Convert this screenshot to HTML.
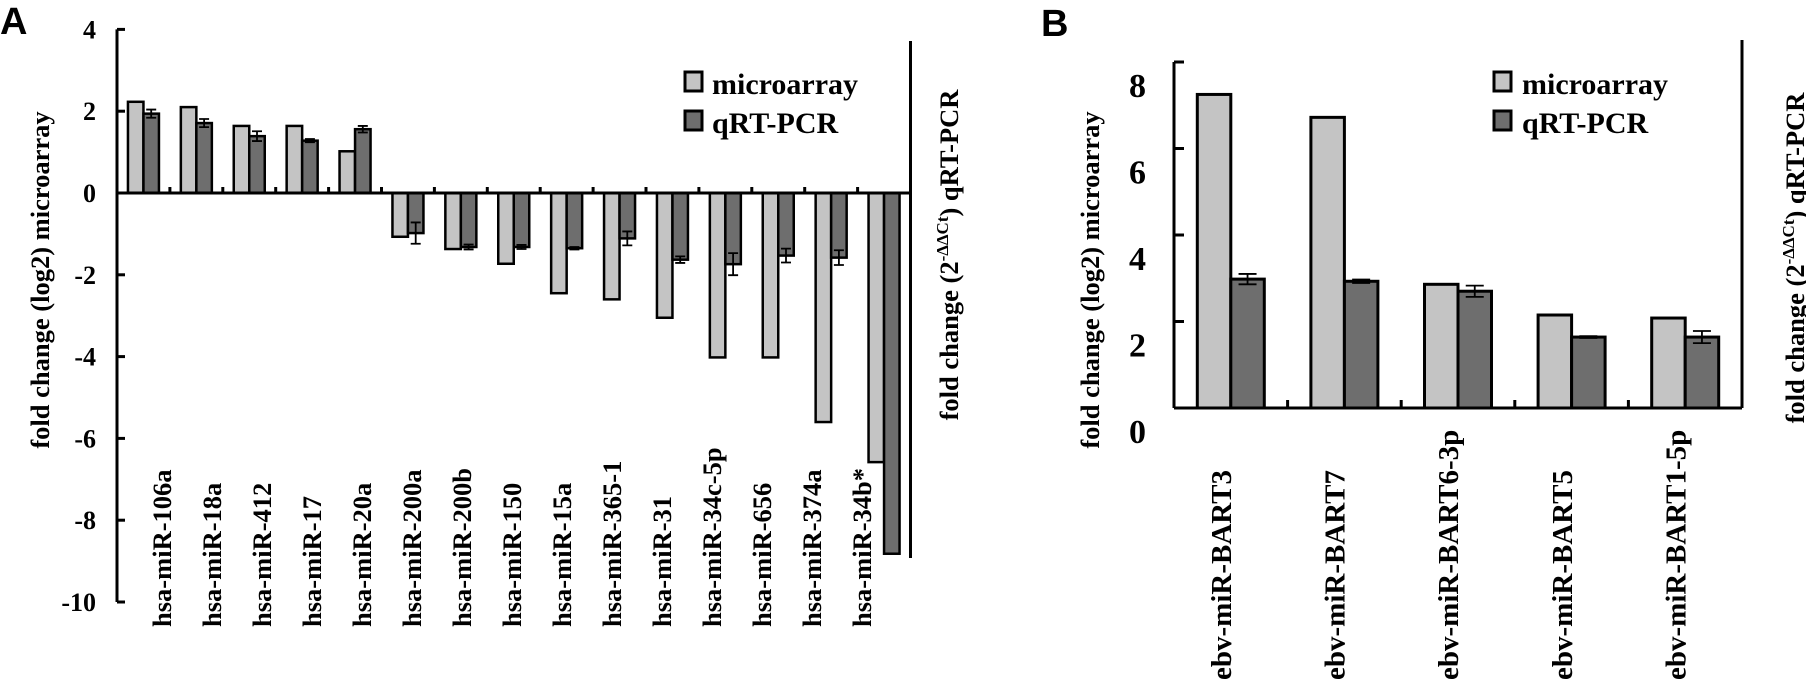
<!DOCTYPE html>
<html><head><meta charset="utf-8"><style>
html,body{margin:0;padding:0;background:#fff;}
svg{display:block;font-family:"Liberation Serif",serif;font-weight:bold;}
.sans{font-family:"Liberation Sans",sans-serif;}
</style></head><body>
<svg id="chart" width="1806" height="682" viewBox="0 0 1806 682" xmlns="http://www.w3.org/2000/svg">
<text class="sans" x="0" y="34" font-size="38">A</text>
<text class="sans" x="1041" y="36" font-size="38">B</text>
<text transform="translate(49,280) rotate(-90)" text-anchor="middle" font-size="26.5">fold change (log2) microarray</text>
<text transform="translate(958,255) rotate(-90)" text-anchor="middle" font-size="26.5">fold change (2<tspan dy="-10" font-size="17">-ΔΔCt</tspan><tspan dy="10">) qRT-PCR</tspan></text>
<text transform="translate(1099,280) rotate(-90)" text-anchor="middle" font-size="26.5">fold change (log2) microarray</text>
<text transform="translate(1804,258) rotate(-90)" text-anchor="middle" font-size="26.5">fold change (2<tspan dy="-10" font-size="17">-ΔΔCt</tspan><tspan dy="10">) qRT-PCR</tspan></text>
<g>
<rect x="685" y="72" width="17" height="19" fill="#c4c4c4" stroke="#000" stroke-width="3"/>
<text x="712" y="94" font-size="30">microarray</text>
<rect x="685" y="111" width="17" height="19" fill="#6e6e6e" stroke="#000" stroke-width="3"/>
<text x="712" y="133" font-size="30">qRT-PCR</text>
</g>
<g>
<rect x="1494" y="72" width="17" height="19" fill="#c4c4c4" stroke="#000" stroke-width="3"/>
<text x="1522" y="94" font-size="30">microarray</text>
<rect x="1494" y="111" width="17" height="19" fill="#6e6e6e" stroke="#000" stroke-width="3"/>
<text x="1522" y="133" font-size="30">qRT-PCR</text>
</g>
<g id="ga"></g><g id="gb"></g>
</svg>
<script>
const catsA = ["hsa-miR-106a","hsa-miR-18a","hsa-miR-412","hsa-miR-17","hsa-miR-20a","hsa-miR-200a","hsa-miR-200b","hsa-miR-150","hsa-miR-15a","hsa-miR-365-1","hsa-miR-31","hsa-miR-34c-5p","hsa-miR-656","hsa-miR-374a","hsa-miR-34b*"];
const microA = [2.23,2.1,1.64,1.64,1.02,-1.07,-1.37,-1.73,-2.45,-2.6,-3.05,-4.02,-4.02,-5.6,-6.58];
const qpcrA = [1.94,1.71,1.39,1.28,1.56,-0.98,-1.32,-1.32,-1.35,-1.11,-1.63,-1.74,-1.53,-1.58,-8.82];
const errA = [0.1,0.1,0.12,0.04,0.08,0.26,0.06,0.05,0.03,0.17,0.08,0.27,0.17,0.18,0];
const ticksA = [4,2,0,-2,-4,-6,-8,-10];
const catsB = ["ebv-miR-BART3","ebv-miR-BART7","ebv-miR-BART6-3p","ebv-miR-BART5","ebv-miR-BART1-5p"];
const microB = [7.25,6.72,2.86,2.15,2.08];
const qpcrB = [2.98,2.93,2.7,1.64,1.64];
const errB = [0.12,0.04,0.13,0.02,0.14];
const ticksB = [0,2,4,6,8];

const NS="http://www.w3.org/2000/svg";
function mk(parent,tag,attrs){const e=document.createElementNS(NS,tag);for(const k in attrs)e.setAttribute(k,attrs[k]);parent.appendChild(e);return e;}

function panel(g,o){
  const y=v=>o.y0-(v)*o.ppu;
  const x=i=>o.x0+i*o.step;
  const n=o.cats.length;
  o.micro.forEach((v,i)=>{
    const bx=x(i)+o.step*0.5-o.bw;
    const r=mk(g,'rect',{x:bx,y:Math.min(y(v),o.y0),width:o.bw,height:Math.abs(y(v)-o.y0),fill:'#c4c4c4',stroke:'#000','stroke-width':o.sw});
    
    
  });
  o.qpcr.forEach((v,i)=>{
    const bx=x(i)+o.step*0.5;
    const r=mk(g,'rect',{x:bx,y:Math.min(y(v),o.y0),width:o.bw,height:Math.abs(y(v)-o.y0),fill:'#6e6e6e',stroke:'#000','stroke-width':o.sw});
    
    
    const e=o.err[i];
    if(e>0){
      const cx=bx+o.bw/2;
      const eb=mk(g,'path',{d:`M${cx},${y(v+e)}V${y(v-e)}M${cx-o.cap},${y(v+e)}H${cx+o.cap}M${cx-o.cap},${y(v-e)}H${cx+o.cap}`,stroke:'#000','stroke-width':1.8,fill:'none'});
      
      
    }
  });
  // axes
  const ya=mk(g,'line',{x1:o.x0,y1:y(o.ticks[o.ticks.length-1]),x2:o.x0,y2:y(o.ticks[0]),stroke:'#000','stroke-width':3});
   
  const xa=mk(g,'line',{x1:o.x0,y1:o.y0,x2:x(n),y2:o.y0,stroke:'#000','stroke-width':3});
   
  const ra=mk(g,'line',{x1:x(n),y1:o.rTop,x2:x(n),y2:o.rBot,stroke:'#000','stroke-width':3});
   
  for(let i=1;i<n;i++){
    const t=mk(g,'line',{x1:x(i),y1:o.y0,x2:x(i),y2:o.y0-o.xt,stroke:'#000','stroke-width':3});
     
  }
  o.ticks.forEach(v=>{
    const t=mk(g,'line',{x1:o.x0,y1:y(v),x2:o.x0+o.yt,y2:y(v),stroke:'#000','stroke-width':3});
     
    const l=mk(g,'text',{x:o.tlx,y:y(v)+o.tloff,'text-anchor':'end','font-size':o.tfs});
    l.textContent=String(v);
     
  });
  o.cats.forEach((c,i)=>{
    const lx=o.lx0+i*o.lstep;
    const l=mk(g,'text',{transform:`translate(${lx},${o.ly}) rotate(-90)`,'font-size':o.lfs});
    l.textContent=c;
     
  });
}
panel(document.getElementById('ga'),{cats:catsA,micro:microA,qpcr:qpcrA,err:errA,ticks:ticksA,x0:117,step:52.9,y0:193,ppu:40.9,bw:15.5,sw:2.5,cap:5,rTop:41,rBot:558,xt:6,yt:8,tlx:96,tloff:9,tfs:26,lx0:171,lstep:50,ly:627,lfs:26.5});
panel(document.getElementById('gb'),{cats:catsB,micro:microB,qpcr:qpcrB,err:errB,ticks:ticksB,x0:1174,step:113.6,y0:408,ppu:43.25,bw:33.5,sw:3,cap:9,rTop:40,rBot:408,xt:8,yt:10,tlx:1146,tloff:35,tfs:34,lx0:1231,lstep:113.6,ly:680,lfs:29});
</script>
</body></html>
